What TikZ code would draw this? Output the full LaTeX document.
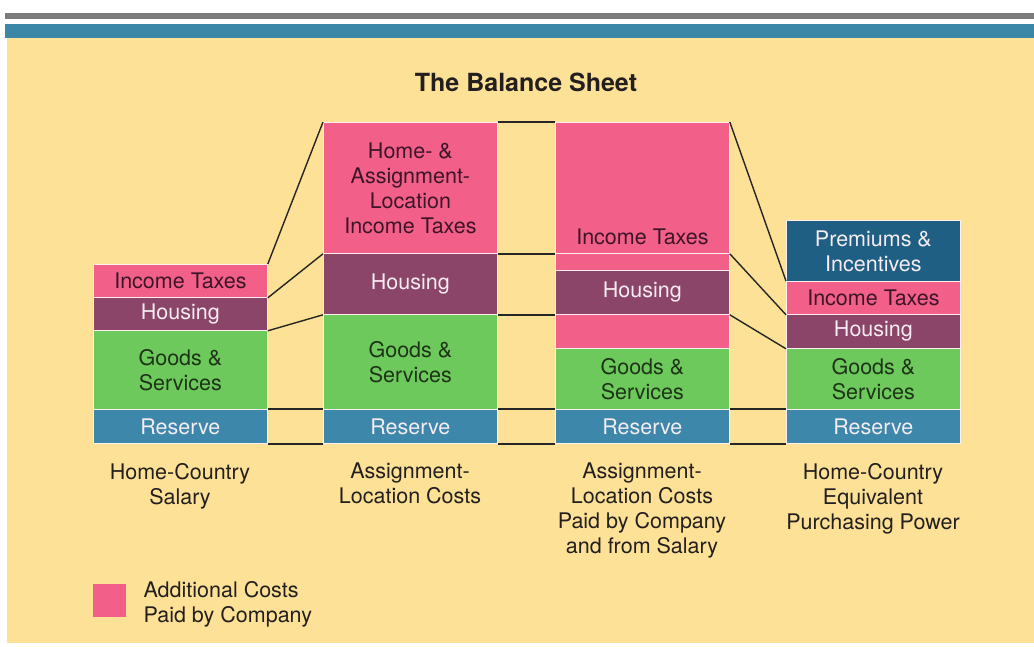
\documentclass[tikz,border=0pt]{standalone}
\usepackage{fontspec}
\setmainfont{TeX Gyre Heros}
\usetikzlibrary{positioning}
\definecolor{bgyellow}{HTML}{FCE196}
\definecolor{barblue}{HTML}{3A87A8}
\definecolor{bargray}{HTML}{7C7B7C}
\definecolor{taxpink}{HTML}{F2608A}
\definecolor{housepurple}{HTML}{8A4569}
\definecolor{goodsgreen}{HTML}{6DC95C}
\definecolor{reserveblue}{HTML}{3C87AA}
\definecolor{premblue}{HTML}{1E5F83}
\definecolor{darktext}{HTML}{231F20}
\definecolor{pinktext}{HTML}{3D1528}
\definecolor{greentext}{HTML}{1E3318}
\definecolor{lighttext}{HTML}{F6ECF2}
\begin{document}
\begin{tikzpicture}[x=1pt, y=-1pt,
    blk/.style={rectangle, draw=white!75!pink, line width=0.8pt, anchor=north west,
      minimum width=174pt, minimum height=#1, inner sep=0pt, align=center,
      font=\fontsize{21.5}{25}\selectfont},
    tax/.style={blk=#1, fill=taxpink, text=pinktext},
    house/.style={blk=#1, fill=housepurple, text=lighttext},
    goods/.style={blk=#1, fill=goodsgreen, text=greentext},
    reserve/.style={blk=34pt, fill=reserveblue, text=lighttext},
    caplbl/.style={inner sep=0pt, align=center, text=darktext, font=\fontsize{21.5}{25}\selectfont},
    conn/.style={draw=black!85, line width=1.4pt}
  ]
    \useasboundingbox (0,0) rectangle (1034,646);
    \fill[bgyellow] (7,38) rectangle (1034,643);
    \fill[bargray] (5,13) rectangle (1034,18.5);
    \fill[barblue] (5,24) rectangle (1034,38);

    \node[font=\bfseries\fontsize{25}{28}\selectfont, text=darktext] (title) at (526,82) {The Balance Sheet};

    \node[tax=33pt] (c1tax) at (93,264) {Income Taxes};
    \node[house=33pt] (c1hou) at (93,297) {Housing};
    \node[goods=79pt] (c1goods) at (93,330) {Goods \&\\Services};
    \node[reserve] (c1res) at (93,409) {Reserve};

    \node[tax=131pt] (c2tax) at (323,122) {Home- \&\\Assignment-\\Location\\Income Taxes};
    \node[house=61pt] (c2hou) at (323,253) {Housing};
    \node[goods=95pt] (c2goods) at (323,314) {Goods \&\\Services};
    \node[reserve] (c2res) at (323,409) {Reserve};

    \node[tax=131pt] (c3tax) at (555,122) {};
    \node[caplbl, text=pinktext, above=8.5pt of c3tax.south] (c3taxlbl) {Income Taxes};
    \node[tax=17pt] (c3extra) at (555,253) {};
    \node[house=44pt] (c3hou) at (555,270) {Housing};
    \node[tax=34pt] (c3pink) at (555,314) {};
    \node[goods=61pt] (c3goods) at (555,348) {Goods \&\\Services};
    \node[reserve] (c3res) at (555,409) {Reserve};

    \node[blk=61pt, fill=premblue, text=lighttext] (c4prem) at (786,220) {Premiums \&\\Incentives};
    \node[tax=33pt] (c4tax) at (786,281) {Income Taxes};
    \node[house=34pt] (c4hou) at (786,314) {Housing};
    \node[goods=61pt] (c4goods) at (786,348) {Goods \&\\Services};
    \node[reserve] (c4res) at (786,409) {Reserve};

    \draw[conn] (c1tax.north east) -- (c2tax.north west);
    \draw[conn] (c1tax.south east) -- (c2tax.south west);
    \draw[conn] (c1hou.south east) -- (c2hou.south west);
    \draw[conn] (c1res.north east) -- (c2res.north west);
    \draw[conn] (c1res.south east) -- (c2res.south west);

    \draw[conn] (c2tax.north east) -- (c3tax.north west);
    \draw[conn] (c2tax.south east) -- (c3tax.south west);
    \draw[conn] (c2hou.south east) -- (c3hou.south west);
    \draw[conn] (c2res.north east) -- (c3res.north west);
    \draw[conn] (c2res.south east) -- (c3res.south west);

    \draw[conn] (c3tax.north east) -- (c4tax.north west);
    \draw[conn] (c3tax.south east) -- (c4tax.south west);
    \draw[conn] (c3hou.south east) -- (c4hou.south west);
    \draw[conn] (c3res.north east) -- (c4res.north west);
    \draw[conn] (c3res.south east) -- (c4res.south west);

    \node[caplbl, anchor=north] (cap1) at (180,463) {Home-Country\\Salary};
    \node[caplbl, anchor=north] (cap2) at (410,463) {Assignment-\\Location Costs};
    \node[caplbl, anchor=north] (cap3) at (642,463) {Assignment-\\Location Costs\\Paid by Company\\and from Salary};
    \node[caplbl, anchor=north] (cap4) at (873,463) {Home-Country\\Equivalent\\Purchasing Power};

    \node[rectangle, fill=taxpink, minimum size=33pt, inner sep=0pt, anchor=north west] (key) at (93,584) {};
    \node[caplbl, align=left, right=17pt of key, yshift=-4pt] (keytext) {Additional Costs\\Paid by Company};
\end{tikzpicture}
\end{document}
